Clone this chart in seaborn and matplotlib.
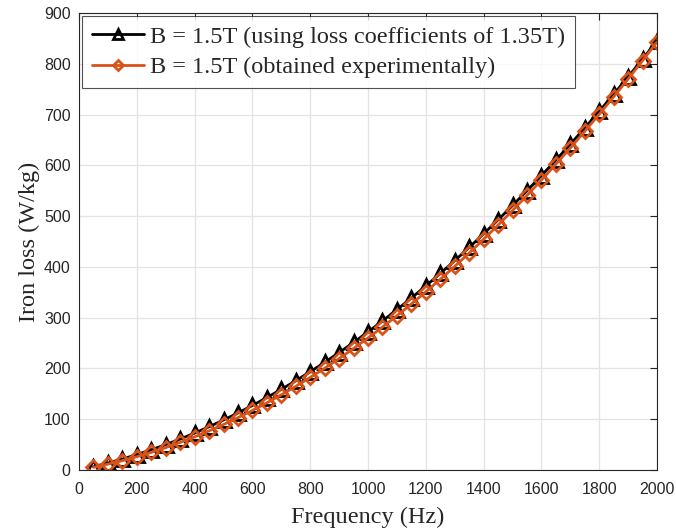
import pandas as pd
import matplotlib
matplotlib.use('Agg')
import matplotlib.pyplot as plt
import seaborn as sns

# Frequencies (Hz) and iron loss (W/kg)
freq = list(range(50, 2001, 50))
loss_coef_135 = [6.5, 13.7, 21.6, 30.3, 39.8, 50.0, 60.9, 72.7, 85.2, 98.4,
                 112.3, 127.1, 142.6, 158.8, 175.8, 193.5, 212.0, 231.3, 251.2, 272.0,
                 293.5, 315.8, 338.7, 362.5, 387.1, 412.3, 438.3, 465.1, 492.6, 520.9,
                 549.9, 579.7, 610.2, 641.5, 673.5, 706.3, 739.9, 774.2, 809.2, 845.0]
loss_exp = [5.3, 11.5, 18.4, 26.2, 34.7, 44.1, 54.3, 65.2, 77.0, 89.6,
            103.0, 117.2, 132.3, 148.1, 164.7, 182.2, 200.4, 219.5, 239.3, 260.0,
            281.5, 303.8, 326.9, 350.8, 375.5, 401.0, 427.3, 454.4, 482.3, 511.1,
            540.7, 571.0, 602.2, 634.2, 667.0, 700.6, 734.9, 770.2, 806.2, 843.0]
labels = ['B = 1.5T (using loss coefficients of 1.35T)',
          'B = 1.5T (obtained experimentally)']

df = pd.DataFrame({'Frequency': freq, 'Model': loss_coef_135, 'Exp': loss_exp})

sns.set_style('white')
plt.rcParams['font.family'] = ['Liberation Serif', 'DejaVu Serif']

fig = plt.figure(figsize=(6.76, 5.31), dpi=100)
ax = fig.add_axes([0.1169, 0.1149, 0.855, 0.8606])

sns.lineplot(data=df, x='Frequency', y='Model', ax=ax, color='black',
             marker='^', markersize=9.5, mfc='none', mec='black', mew=2,
             linewidth=2, label=labels[0])
sns.lineplot(data=df, x='Frequency', y='Exp', ax=ax, color='#D95319',
             marker='D', markersize=7, mfc='none', mec='#D95319', mew=2,
             linewidth=2, label=labels[1])

ax.set_xlim(0, 2000)
ax.set_ylim(0, 900)
ax.set_xticks(range(0, 2001, 200))
ax.set_yticks(range(0, 901, 100))
ax.grid(True, color='#e3e3e3', linewidth=0.9)
ax.set_axisbelow(True)
for s in ax.spines.values():
    s.set_color('#262626')
    s.set_linewidth(0.8)
ax.tick_params(direction='in', length=5, width=0.8, top=True, right=True,
               colors='#262626', labelsize=11.5)
ax.tick_params(axis='x', pad=9)
ax.tick_params(axis='y', pad=6)
for lab in ax.get_xticklabels() + ax.get_yticklabels():
    lab.set_family('Liberation Sans')

ax.set_xlabel('Frequency (Hz)', fontsize=17.5, labelpad=7)
ax.set_ylabel('Iron loss (W/kg)', fontsize=17.5, labelpad=3)

leg = ax.legend(loc='upper left', fontsize=17.5, frameon=True, fancybox=False,
                edgecolor='#262626', borderpad=0.4, labelspacing=0.35,
                handlelength=2.15, handletextpad=0.25, borderaxespad=0.12,
                markerscale=0.8)
leg.get_frame().set_linewidth(0.8)

plt.savefig('out.png', dpi=100)
